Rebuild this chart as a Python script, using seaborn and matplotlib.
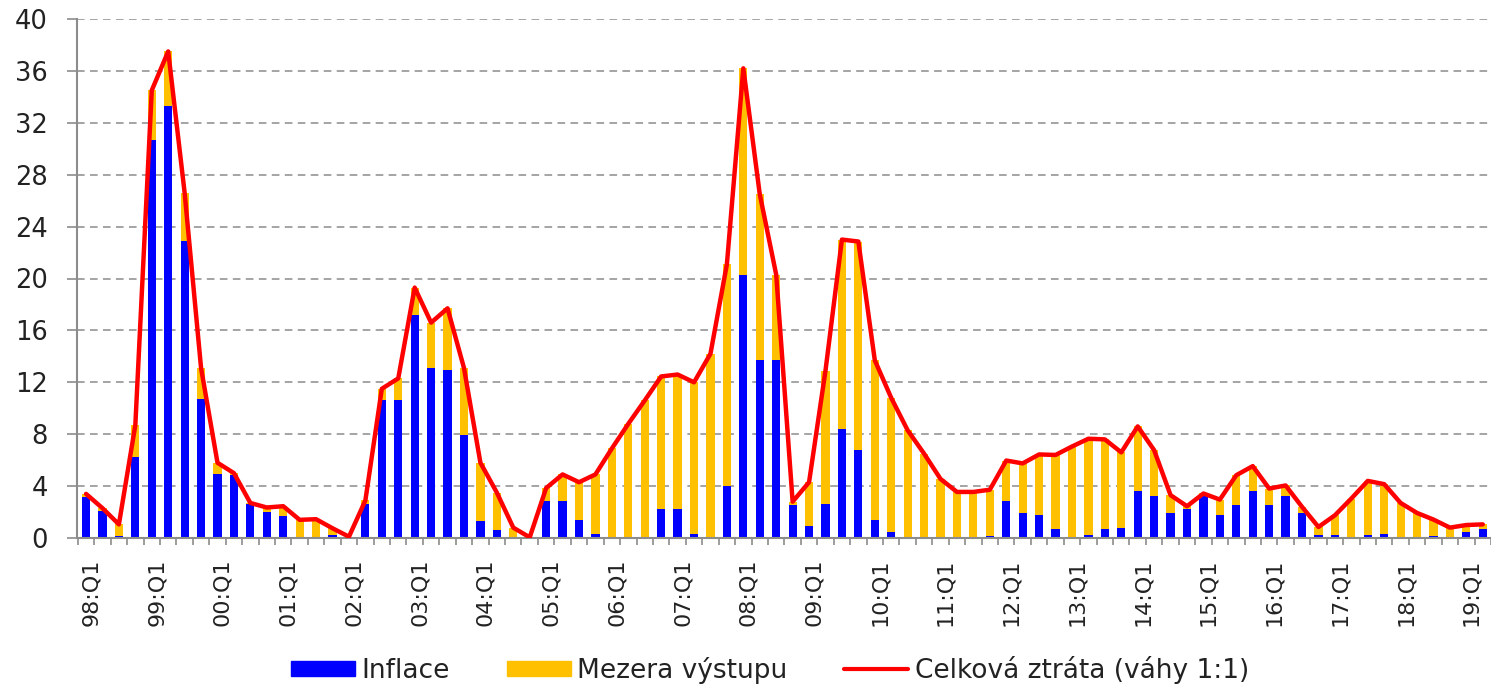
import numpy as np
import pandas as pd
import matplotlib
matplotlib.use("Agg")
import matplotlib.pyplot as plt  # noqa: E402
import matplotlib.transforms as mtransforms  # noqa: E402
import seaborn as sns  # noqa: E402
from matplotlib.lines import Line2D  # noqa: E402
from matplotlib.patches import Patch  # noqa: E402

# quarters 98:Q1 .. 19:Q2 (last one is cut off by the right edge)
quarters = [f"{y % 100:02d}:Q{q}" for y in range(1998, 2020) for q in range(1, 5)][:86]

inflace = [
    3.15, 2.1, 0.15, 6.25, 30.7, 33.3, 22.9, 10.75, 4.95, 4.85, 2.6, 2.0, 1.7, 0.0, 0.0, 0.2,
    0.1, 2.6, 10.6, 10.6, 17.2, 13.1, 12.95, 7.9, 1.3, 0.65, 0.0, 0.0, 2.85, 2.88, 1.4, 0.3,
    0.0, 0.0, 0.0, 2.25, 2.25, 0.3, 0.1, 4.0, 20.3, 13.7, 13.7, 2.57, 0.96, 2.59, 8.4, 6.75,
    1.4, 0.45, 0.0, 0.0, 0.0, 0.0, 0.0, 0.13, 2.85, 1.92, 1.74, 0.67, 0.0, 0.26, 0.67, 0.8,
    3.6, 3.22, 1.93, 2.27, 3.22, 1.75, 2.58, 3.6, 2.58, 3.22, 1.93, 0.26, 0.26, 0.0, 0.26, 0.33,
    0.0, 0.0, 0.15, 0.0, 0.46, 0.67,
]
mezera = [
    0.25, 0.2, 0.9, 2.45, 3.8, 4.2, 3.7, 2.35, 0.85, 0.15, 0.1, 0.35, 0.75, 1.4, 1.45, 0.55,
    0.0, 0.3, 0.9, 1.7, 2.1, 3.5, 4.75, 5.2, 4.5, 2.85, 0.8, 0.05, 1.0, 2.02, 2.9, 4.6,
    6.9, 8.8, 10.6, 10.2, 10.35, 11.7, 14.1, 17.1, 15.9, 12.8, 6.6, 0.23, 3.34, 10.31, 14.6, 16.1,
    12.3, 10.35, 8.3, 6.5, 4.55, 3.55, 3.55, 3.59, 3.12, 3.83, 4.7, 5.73, 7.05, 7.39, 6.93, 5.8,
    5.0, 3.55, 1.37, 0.18, 0.21, 1.21, 2.26, 1.94, 1.23, 0.83, 0.47, 0.59, 1.49, 3.04, 4.14, 3.82,
    2.7, 1.93, 1.27, 0.8, 0.54, 0.38,
]

labels = ["Inflace", "Mezera výstupu", "Celková ztráta (váhy 1:1)"]
BLUE, ORANGE, RED = "#0000FF", "#FFC000", "#FF0000"
GREY = "#8c8c8c"
TXT = "#222222"

df = pd.DataFrame({"q": quarters, "inflace": inflace, "mezera": mezera})
df["celkem"] = df["inflace"] + df["mezera"]
df["pos"] = np.arange(len(df))

sns.set_style("white")
plt.rcParams["font.family"] = ["DejaVu Sans"]

W, H = 1491, 685
fig = plt.figure(figsize=(W / 100, H / 100), dpi=100)
ax = fig.add_axes([77 / W, 147 / H, 1 - 77 / W, 519 / H])

# stacked bars: full height in orange, inflation part drawn over it from zero
sns.barplot(data=df, x="q", y="celkem", color=ORANGE, saturation=1, width=0.5,
            errorbar=None, linewidth=0, ax=ax, zorder=2)
sns.barplot(data=df, x="q", y="inflace", color=BLUE, saturation=1, width=0.5,
            errorbar=None, linewidth=0, ax=ax, zorder=2)
sns.lineplot(data=df, x="pos", y="celkem", color=RED, linewidth=3.2, ax=ax,
             zorder=3, solid_joinstyle="round")

ax.set_xlim(-0.55, 85.15)
ax.set_ylim(0, 40)
ax.set_yticks(range(0, 41, 4))
ax.set_xticks(df["pos"][::4])
ax.set_xticklabels(df["q"][::4], rotation=90)
ax.set_xticks(np.arange(-0.5, len(df), 1), minor=True)
ax.set_xlabel("")
ax.set_ylabel("")

ax.set_axisbelow(True)
ax.yaxis.grid(True, color=GREY, linestyle=(0, (5, 3.5)), linewidth=1.1)
ax.xaxis.grid(False)
for side in ("top", "right"):
    ax.spines[side].set_visible(False)
for side in ("left", "bottom"):
    ax.spines[side].set_color(GREY)
    ax.spines[side].set_linewidth(1.5)

ax.tick_params(axis="y", length=7, width=1.2, color=GREY, pad=14,
               labelsize=18.5, labelcolor=TXT, left=True)
ax.tick_params(axis="x", which="major", length=0, pad=15, labelsize=16, labelcolor=TXT)
ax.tick_params(axis="x", which="minor", length=5, width=1.2, color=GREY, bottom=True)

# quarter labels sit a few pixels right of the bar centre in the original
shift = mtransforms.ScaledTranslation(5 / 100, 0, fig.dpi_scale_trans)
for lab in ax.get_xticklabels():
    lab.set_transform(lab.get_transform() + shift)

handles = [Patch(color=BLUE), Patch(color=ORANGE), Line2D([], [], color=RED, linewidth=3)]
fig.legend(handles, labels, loc="center", bbox_to_anchor=(770 / W, 15 / H), ncol=3,
           frameon=False, fontsize=19, handlelength=2.42, handleheight=0.53,
           handletextpad=0.25, columnspacing=2.15, labelcolor=TXT)

fig.savefig("out.png", dpi=100)
